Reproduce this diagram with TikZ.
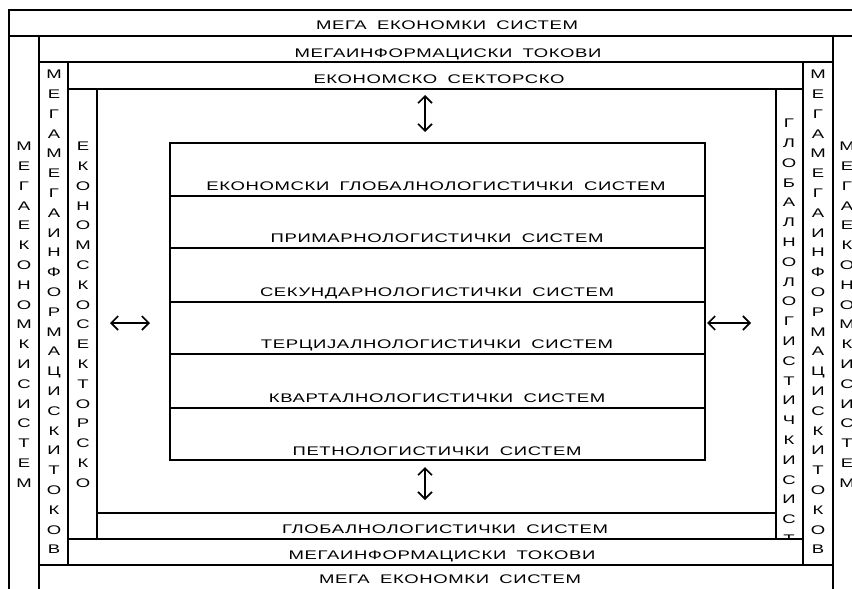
\documentclass[tikz,border=0pt]{standalone}
\usepackage{fontspec}
\setmainfont{Liberation Sans}
\newfontfamily\widefont[FakeStretch=1.48,LetterSpace=5,WordSpace=1.8]{Liberation Sans}
\usetikzlibrary{arrows.meta}

\begin{document}
\begin{tikzpicture}[x=1pt,y=-1pt,line width=2.2pt,
    font=\widefont\fontsize{12.5}{19.8}\selectfont,
    lbl/.style={anchor=base,inner sep=0pt},
    col/.style={anchor=north,inner sep=0pt,align=center},
    dbl/.style={line width=1.6pt,
        {Straight Barb[length=7pt,width=14pt]}-{Straight Barb[length=7pt,width=14pt]}}]
\useasboundingbox (0,0) rectangle (852,589);
\fill[white] (0,0) rectangle (852,589);
%Vertical columns first, the letters are stacked one per line.
% Whatever runs past the bottom bands gets covered by them.
\node[col] (c1l) at (24,141) {М\\Е\\Г\\А\\Е\\К\\О\\Н\\О\\М\\К\\И\\С\\И\\С\\Т\\Е\\М};
\node[col] (c2l) at (54,69) {М\\Е\\Г\\А\\М\\Е\\Г\\А\\И\\Н\\Ф\\О\\Р\\М\\А\\Ц\\И\\С\\К\\И\\Т\\О\\К\\О\\В\\И};
\node[col] (c3l) at (83,141) {Е\\К\\О\\Н\\О\\М\\С\\К\\О\\С\\Е\\К\\Т\\О\\Р\\С\\К\\О};
\node[col] (c3r) at (789,118) {Г\\Л\\О\\Б\\А\\Л\\Н\\О\\Л\\О\\Г\\И\\С\\Т\\И\\Ч\\К\\И\\С\\И\\С\\Т\\Е\\М};
\node[col] (c2r) at (818,69) {М\\Е\\Г\\А\\М\\Е\\Г\\А\\И\\Н\\Ф\\О\\Р\\М\\А\\Ц\\И\\С\\К\\И\\Т\\О\\К\\О\\В\\И};
\node[col] (c1r) at (847,141) {М\\Е\\Г\\А\\Е\\К\\О\\Н\\О\\М\\К\\И\\С\\И\\С\\Т\\Е\\М};
%Bottom bands, white so that they hide the column ends
\fill[white] (97,513) rectangle (776,539);
\fill[white] (68,539) rectangle (803,565);
\fill[white] (39,565) rectangle (833,589);
%Outer frame
\draw (9,589) -- (9,10) -- (852,10);
\draw (9,36) -- (852,36);
%Second frame
\draw (39,589) -- (39,36);
\draw (833,589) -- (833,36);
\draw (39,62) -- (833,62);
\draw (39,565) -- (833,565);
%Third frame
\draw (68,565) -- (68,62);
\draw (803,565) -- (803,62);
\draw (68,89) -- (803,89);
\draw (68,539) -- (803,539);
%Fourth frame
\draw (97,539) -- (97,89);
\draw (776,539) -- (776,89);
\draw (97,513) -- (776,513);
%Band labels
\node[lbl] (b1) at (447,30) {МЕГА ЕКОНОМКИ СИСТЕМ};
\node[lbl] (b2) at (448,57) {МЕГАИНФОРМАЦИСКИ ТОКОВИ};
\node[lbl] (b3) at (439,83) {ЕКОНОМСКО СЕКТОРСКО};
\node[lbl] (b4) at (445,533) {ГЛОБАЛНОЛОГИСТИЧКИ СИСТЕМ};
\node[lbl] (b5) at (442,559) {МЕГАИНФОРМАЦИСКИ ТОКОВИ};
\node[lbl] (b6) at (450,583) {МЕГА ЕКОНОМКИ СИСТЕМ};
%The table in the middle, one row per subsystem
\draw (170,143) rectangle (705,460);
\draw (170,196) -- (705,196);
\draw (170,248) -- (705,248);
\draw (170,302) -- (705,302);
\draw (170,354) -- (705,354);
\draw (170,408) -- (705,408);
\node[lbl] (r1) at (436,190) {ЕКОНОМСКИ ГЛОБАЛНОЛОГИСТИЧКИ СИСТЕМ};
\node[lbl] (r2) at (437,242) {ПРИМАРНОЛОГИСТИЧКИ СИСТЕМ};
\node[lbl] (r3) at (437,296) {СЕКУНДАРНОЛОГИСТИЧКИ СИСТЕМ};
\node[lbl] (r4) at (437,348) {ТЕРЦИЈАЛНОЛОГИСТИЧКИ СИСТЕМ};
\node[lbl] (r5) at (437,402) {КВАРТАЛНОЛОГИСТИЧКИ СИСТЕМ};
\node[lbl] (r6) at (437,455) {ПЕТНОЛОГИСТИЧКИ СИСТЕМ};
%Double arrows round the table
\coordinate (n1) at (425,95);
\coordinate (n2) at (425,132);
\coordinate (s1) at (425,467);
\coordinate (s2) at (425,500);
\coordinate (w1) at (110,323);
\coordinate (w2) at (150,323);
\coordinate (e1) at (707,323);
\coordinate (e2) at (751,323);
\draw[dbl] (n1) -- (n2);
\draw[dbl] (s1) -- (s2);
\draw[dbl] (w1) -- (w2);
\draw[dbl] (e1) -- (e2);
\end{tikzpicture}
\end{document}
